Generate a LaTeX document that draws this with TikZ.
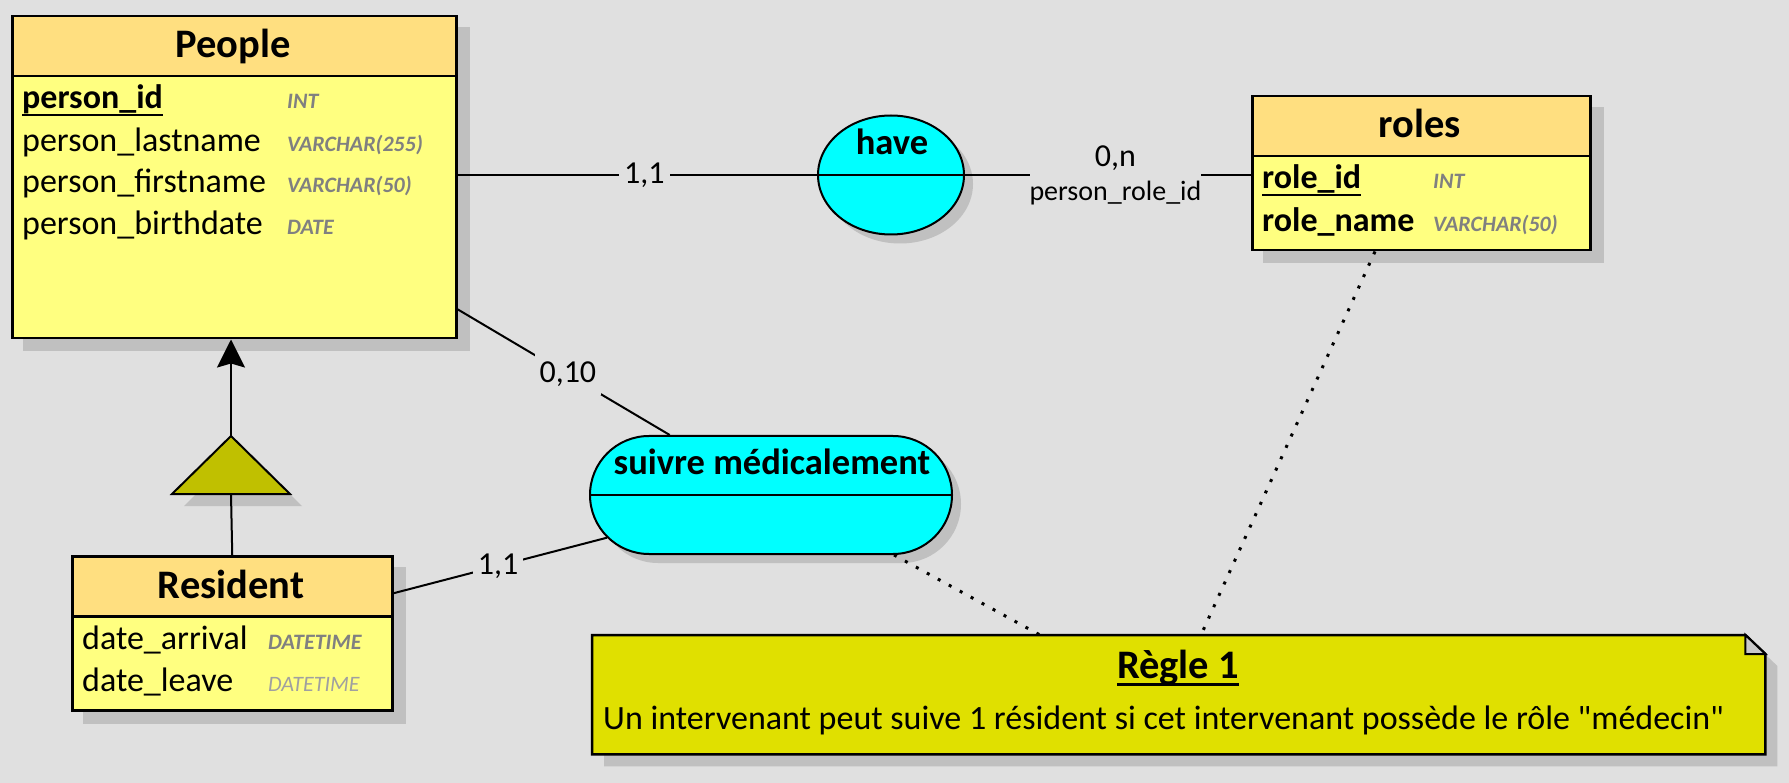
\documentclass[tikz,border=0pt]{standalone}
\usepackage{fontspec}
\setmainfont{Carlito}[Ligatures=TeXOff]
\usetikzlibrary{shapes.geometric,shapes.misc,arrows.meta,backgrounds}
\definecolor{bg}{HTML}{E0E0E0}
\definecolor{shadowc}{HTML}{C0C0C0}
\definecolor{headc}{HTML}{FFDF80}
\definecolor{bodyc}{HTML}{FFFF80}
\definecolor{relc}{HTML}{00FFFF}
\definecolor{notec}{HTML}{E0E000}
\definecolor{isac}{HTML}{C0C000}
\definecolor{foldc}{HTML}{C8C8C8}
\definecolor{typec}{HTML}{808080}
\definecolor{typelight}{HTML}{A0A0A0}
\newcommand\ftitle{\fontsize{40.5}{48}\selectfont\bfseries}
\newcommand\frel{\fontsize{36.5}{44}\selectfont\bfseries}
\newcommand\ffield{\fontsize{34}{41}\selectfont}
\newcommand\ftype{\fontsize{22}{26}\selectfont\bfseries\itshape}
\newcommand\fcard{\fontsize{32}{38}\selectfont}
\newcommand\fsmall{\fontsize{28}{34}\selectfont}
\newcommand\ulfield[1]{\sbox0{#1}\rlap{\rule[-7pt]{\wd0}{2.2pt}}\usebox0}
\newcommand\ulnote[1]{\sbox0{#1}\rlap{\rule[-7.5pt]{\wd0}{2.8pt}}\usebox0}
\begin{document}
\begin{tikzpicture}[x=1pt,y=-1pt,
  ent/.style={draw, line width=2.5pt, inner sep=0pt, anchor=north west},
  rel/.style={draw, line width=2pt, fill=relc, inner sep=0pt},
  titletxt/.style={anchor=base, inner sep=0pt, font=\ftitle},
  reltxt/.style={anchor=base, inner sep=0pt, font=\frel},
  fieldtxt/.style={anchor=base west, inner sep=0pt, font=\ffield},
  typetxt/.style={anchor=base west, inner sep=0pt, font=\ftype, text=typec},
  conn/.style={draw, line width=2pt},
  card/.style={fill=bg, inner xsep=5pt, inner ysep=8pt, font=\fcard},
  cardtwo/.style={fill=bg, inner xsep=0pt, inner ysep=1pt, font=\fsmall, align=center},
  dots/.style={draw, line width=3pt, dash pattern=on 3pt off 9.5pt}]
\useasboundingbox (0,0) rectangle (1789,783);

% ---------- entities ----------
\node[ent, fill=bodyc, minimum width=444, minimum height=262] (PeopleB) at (11,75) {};
\node[ent, fill=headc, minimum width=444, minimum height=60] (People) at (11,15) {};
\node[titletxt] (PeopleT) at (233,58) {People};
\node[fieldtxt] (f1) at (22,109) {\bfseries\ulfield{person\_id}};
\node[fieldtxt] (f2) at (22,152) {person\_lastname};
\node[fieldtxt] (f3) at (22,193) {person\_firstname};
\node[fieldtxt] (f4) at (22,235) {person\_birthdate};
\node[typetxt] (t1) at (287,109) {INT};
\node[typetxt] (t2) at (287,152) {VARCHAR(255)};
\node[typetxt] (t3) at (287,193) {VARCHAR(50)};
\node[typetxt] (t4) at (287,235) {DATE};

\node[ent, fill=bodyc, minimum width=338, minimum height=94] (rolesB) at (1251,155) {};
\node[ent, fill=headc, minimum width=338, minimum height=60] (roles) at (1251,95) {};
\node[titletxt] (rolesT) at (1420,138) {roles};
\node[fieldtxt] (r1) at (1262,189) {\bfseries\ulfield{role\_id}};
\node[fieldtxt] (r2) at (1262,232) {\bfseries role\_name};
\node[typetxt] (rt1) at (1433,189) {INT};
\node[typetxt] (rt2) at (1433,232) {VARCHAR(50)};

\node[ent, fill=bodyc, minimum width=320, minimum height=94] (ResidentB) at (71,615) {};
\node[ent, fill=headc, minimum width=320, minimum height=60] (Resident) at (71,555) {};
\node[titletxt] (ResidentT) at (231,598) {Resident};
\node[fieldtxt] (d1) at (82,649) {date\_arrival};
\node[fieldtxt] (d2) at (82,691) {date\_leave};
\node[typetxt] (dt1) at (268,649) {DATETIME};
\node[typetxt, font=\fontsize{22}{26}\selectfont\itshape, text=typelight] (dt2) at (268,691) {DATETIME};

% ---------- relationships ----------
\node[rel, ellipse, minimum width=146, minimum height=119] (have) at (891,175) {};
\draw[line width=2pt] (have.west) -- (have.east);
\node[reltxt] (haveT) at (892,155) {have};

\node[rel, rounded rectangle, minimum width=362, minimum height=118] (suivre) at (771,495) {};
\draw[line width=2pt] (suivre.west) -- (suivre.east);
\node[reltxt] (suivreT) at (772,475) {suivre médicalement};

% ---------- inheritance ----------
\coordinate (isatop) at (231,436);
\coordinate (isabase) at (231,494);
\filldraw[fill=isac, line width=2pt, line join=miter] (isatop) -- ++(-59,58) -- ++(118,0) -- cycle;
\draw[conn] (Resident.north) -- (isabase);
\draw[conn, -{Stealth[length=28pt,width=28pt,inset=4pt]}] (isatop) -- (isatop |- PeopleB.south);

% ---------- connectors ----------
\draw[conn] (PeopleB.east |- have) -- node[card, pos=0.52] (c1) {1,1} (have);
\draw[conn] (have) -- node[cardtwo, pos=0.526] (c2) {{\fcard 0,n}\\person\_role\_id} (have -| rolesB.west);
\draw[conn] ([yshift=-102pt]PeopleB.east) -- node[card, pos=0.52] (c3) {0,10} (suivre);
\draw[conn] ([yshift=-7pt]Resident.east) -- node[card, pos=0.49] (c4) {1,1} (suivre);

% ---------- note ----------
\node[inner sep=0pt, minimum width=1173, minimum height=119, anchor=north west] (note) at (592,635) {};
\filldraw[fill=notec, line width=2.5pt, line join=miter] (note.north west) -- ([xshift=-20pt]note.north east) -- ([yshift=-19pt]note.north east) -- (note.south east) -- (note.south west) -- cycle;
\filldraw[fill=foldc, line width=2pt] ([xshift=-20pt]note.north east) -- ([xshift=-20pt,yshift=-19pt]note.north east) -- ([yshift=-19pt]note.north east) -- cycle;
\node[titletxt] (regle) at (1178,678) {\ulnote{Règle 1}};
\node[fieldtxt] (regletxt) at (603,729) {Un intervenant peut suive 1 résident si cet intervenant possède le rôle "médecin"};

\draw[dots] (suivre.334) -- ([xshift=448pt]note.north west);
\draw[dots] ([xshift=124pt]rolesB.south west) -- ([xshift=609pt]note.north west);

% ---------- background and shadows ----------
\begin{scope}[on background layer]
\fill[bg] (0,0) rectangle (1789,783);
\fill[shadowc] ([shift={(12,12)}]People.north west) rectangle ([shift={(12,12)}]PeopleB.south east);
\fill[shadowc] ([shift={(12,12)}]roles.north west) rectangle ([shift={(12,12)}]rolesB.south east);
\fill[shadowc] ([shift={(12,12)}]Resident.north west) rectangle ([shift={(12,12)}]ResidentB.south east);
\fill[shadowc] ([shift={(9,9)}]have.center) ellipse [x radius=73pt, y radius=59.5pt];
\fill[shadowc, rounded corners=59pt] (599,445) rectangle (961,563);
\fill[shadowc] ([shift={(12,12)}]isatop) -- ++(-59,58) -- ++(118,0) -- cycle;
\fill[shadowc] ([shift={(12,12)}]note.north west) -- ([shift={(-8,12)}]note.north east) -- ([shift={(12,31)}]note.north east) -- ([shift={(12,12)}]note.south east) -- ([shift={(12,12)}]note.south west) -- cycle;
\end{scope}
\end{tikzpicture}
\end{document}
